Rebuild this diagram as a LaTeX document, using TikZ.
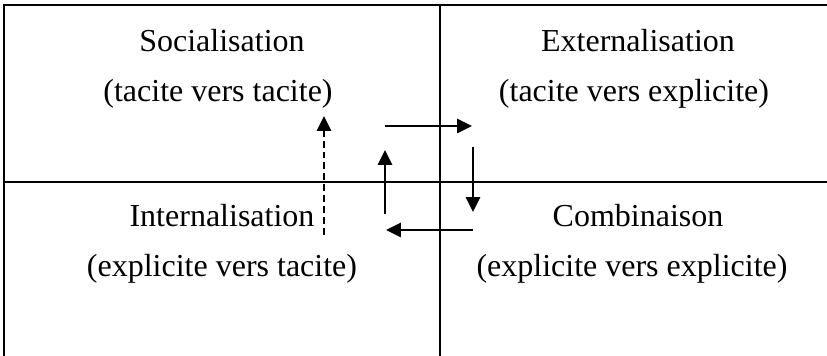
\documentclass[tikz,border=0pt]{standalone}
\usepackage{fontspec}
\setmainfont{Liberation Serif}
\usetikzlibrary{arrows.meta}
\begin{document}
\begin{tikzpicture}[x=0.375pt, y=-0.375pt,
        lbl/.style={anchor=base, inner sep=0pt, font=\fontsize{12}{14}\selectfont},
        flow/.style={line width=0.75pt, -{Triangle[length=5.6pt,width=5.3pt]}}]
        \useasboundingbox (0,0) rectangle (827,356);
        % table lines
        \draw[line width=1pt] (4,356) -- (4,5) -- (827,5);
        \draw[line width=1pt] (4,182) -- (827,182);
        \draw[line width=1pt] (440,5) -- (440,356);
        % quadrant labels
        \node[lbl] (soc) at (222,52) {Socialisation};
        \node[lbl] (socsub) at (218,102) {(tacite vers tacite)};
        \node[lbl] (ext) at (638,52) {Externalisation};
        \node[lbl] (extsub) at (634,102) {(tacite vers explicite)};
        \node[lbl] (int) at (222,227) {Internalisation};
        \node[lbl] (intsub) at (222,277) {(explicite vers tacite)};
        \node[lbl] (comb) at (638,227) {Combinaison};
        \node[lbl] (combsub) at (632,277) {(explicite vers explicite)};
        % spiral arrows
        \coordinate (a1) at (385,126);
        \coordinate (a2) at (472,126);
        \coordinate (b1) at (473,147);
        \coordinate (b2) at (473,212);
        \coordinate (c1) at (473,230);
        \coordinate (c2) at (386,230);
        \coordinate (d1) at (385,214);
        \coordinate (d2) at (385,150);
        \coordinate (e1) at (324,235);
        \coordinate (e2) at (324,116);
        \draw[flow] (a1) -- (a2);
        \draw[flow] (b1) -- (b2);
        \draw[flow] (c1) -- (c2);
        \draw[flow] (d1) -- (d2);
        \draw[flow, dash pattern=on 2.6pt off 1.5pt] (e1) -- (e2);
    \end{tikzpicture}
\end{document}
